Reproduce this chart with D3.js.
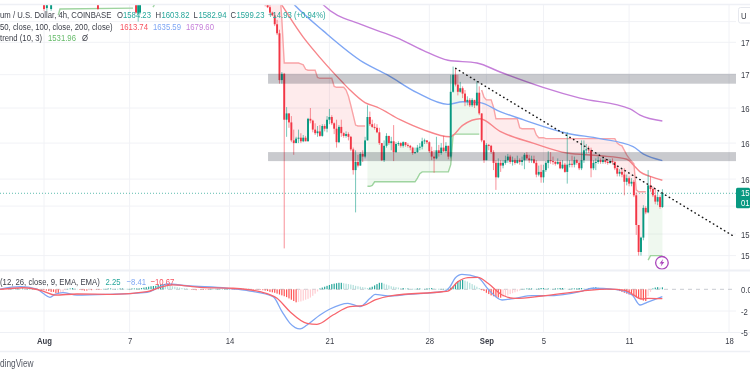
<!DOCTYPE html>
<html>
<head>
<meta charset="utf-8">
<script src="https://cdnjs.cloudflare.com/ajax/libs/d3/7.8.5/d3.min.js"></script>
<style>
  html, body { margin: 0; padding: 0; background: #fff; overflow: hidden; }
  svg { display: block; filter: blur(0.35px); }
  text { font-family: "Liberation Sans", Arial, sans-serif; }
</style>
</head>
<body>
<div id="chart"></div>
<script>
// 4h bars, first one on day 15.5 (days counted from 1 Aug)
const firstBarDay = 15.5;
const closes = [
  1810,1806,1800,1797,1787,1777,1725,1732,1681,1688,
  1678,1658,1655,1660,1661,1657,1661,1657,1682,1680,
  1670,1666,1668,1663,1674,1671,1681,1684,1677,1671,
  1656,1673,1666,1663,1665,1662,1648,1625,1634,1630,
  1643,1640,1658,1684,1676,1673,1672,1667,1655,1636,
  1652,1663,1655,1657,1645,1654,1655,1652,1656,1653,
  1652,1650,1644,1645,1650,1651,1657,1658,1656,1646,
  1640,1638,1647,1644,1650,1646,1652,1640,1712,1731,
  1720,1712,1716,1710,1701,1703,1697,1703,1697,1711,
  1688,1658,1636,1653,1652,1645,1633,1617,1633,1630,
  1633,1636,1640,1634,1636,1633,1636,1634,1636,1642,
  1638,1636,1637,1633,1620,1623,1617,1625,1633,1636,
  1635,1634,1632,1634,1627,1631,1623,1631,1632,1631,
  1636,1633,1627,1636,1647,1648,1647,1627,1633,1634,
  1636,1634,1636,1634,1633,1635,1634,1627,1621,1623,
  1620,1612,1616,1610,1612,1597,1564,1534,1550,1583,
  1578,1608,1604,1597,1590,1595,1584,1599.23
];
const highs = [
  1814,1814,1811,1801,1800,1792,1781,1734,1733,1695,
  1688,1685,1670,1662,1670,1666,1664,1663,1683,1694,
  1681,1677,1674,1675,1676,1676,1685,1693,1686,1678,
  1681,1675,1681,1667,1668,1667,1663,1650,1647,1642,
  1645,1647,1662,1697,1690,1681,1677,1676,1672,1655,
  1658,1666,1663,1662,1675,1656,1657,1656,1657,1656,
  1655,1653,1651,1650,1653,1655,1661,1660,1658,1657,
  1651,1647,1662,1653,1655,1663,1656,1652,1731,1740,
  1738,1731,1723,1718,1714,1707,1705,1705,1703,1724,
  1718,1688,1658,1655,1654,1653,1647,1636,1638,1636,
  1636,1641,1643,1642,1640,1638,1641,1638,1640,1644,
  1645,1642,1641,1641,1636,1630,1631,1631,1635,1646,
  1645,1640,1635,1638,1636,1636,1633,1667,1636,1641,
  1640,1637,1635,1658,1658,1654,1652,1650,1636,1638,
  1640,1638,1638,1638,1637,1637,1638,1635,1630,1626,
  1626,1627,1620,1618,1616,1614,1600,1564,1551,1586,
  1585,1625,1618,1607,1605,1601,1597,1603.82
];
const lows = [
  1807,1805,1797,1796,1785,1775,1721,1721,1538,1662,
  1672,1656,1642,1655,1655,1655,1656,1657,1657,1677,
  1667,1664,1662,1662,1662,1668,1667,1676,1675,1665,
  1650,1655,1662,1661,1661,1658,1646,1620,1578,1628,
  1630,1634,1638,1658,1674,1672,1670,1666,1653,1635,
  1634,1650,1653,1647,1635,1644,1652,1650,1650,1651,
  1650,1647,1642,1643,1644,1647,1648,1654,1654,1644,
  1636,1622,1637,1640,1642,1645,1644,1637,1638,1711,
  1718,1708,1711,1705,1696,1697,1695,1695,1694,1696,
  1686,1656,1633,1636,1647,1643,1625,1603,1616,1623,
  1627,1631,1633,1632,1630,1631,1632,1631,1630,1626,
  1636,1633,1633,1632,1617,1618,1611,1611,1623,1627,
  1632,1631,1630,1631,1626,1626,1622,1610,1628,1628,
  1628,1631,1625,1625,1633,1643,1644,1617,1625,1625,
  1632,1632,1632,1632,1631,1632,1631,1625,1618,1618,
  1617,1597,1608,1607,1607,1595,1553,1530,1530,1547,
  1576,1577,1601,1595,1587,1586,1582,1582.94
];

// scraps of older candles that just reach into the top of the pane: [day, open, high, low, close]
const earlyCandles = [
  [0, 1812, 1816, 1802, 1804], [0.2, 1805, 1816, 1802, 1812], [0.5, 1804, 1816, 1802, 1812],
  [3.78, 1812, 1816, 1803, 1804], [6.45, 1812, 1816, 1799, 1800], [6.6, 1799, 1816, 1790, 1812],
  [6.73, 1800, 1816, 1798, 1812]
];

// supertrend, one value per bar
const stRed1 = [
  1860,1860,1860,1860,1860,1860,1830,1792,1744,1744,
  1744,1744,1744,1744,1744,1743,1742,1737,1736,1736,
  1736,1736,1728,1727,1727,1727,1727,1727,1727,1718,
  1717,1717,1717,1717,1714,1707,1697,1686,1675,1674,
  1674,1674,1674
];
const stGreen1 = [
  1607,1607,1608,1612,1612,1612,1612,1612,1612,1612,
  1612,1612,1612,1612,1612,1612,1612,1612,1612,1612,
  1612,1616,1621,1623,1623,1623,1623,1623,1623,1623,
  1623,1623,1623,1623,1623,1631,1664,1665,1665,1665,
  1665,1665,1665,1665,1665,1665,1665,1665
];
const stRed2 = [
  1714,1706,1703,1703,1703,1695,1682,1682,1682,1682,
  1682,1682,1682,1682,1682,1682,1672,1671,1671,1671,
  1671,1671,1671,1664,1661,1661,1661,1660,1660,1660,
  1660,1660,1660,1660,1660,1660,1660,1660,1660,1660,
  1660,1660,1660,1660,1660,1660,1660,1660,1660,1660,
  1660,1660,1660,1660,1660,1660,1660,1655,1653,1652,
  1647,1642,1638,1635,1632,1603,1601,1601,1601,1601
];
const stGreen2 = [1525,1530,1530,1530,1530,1530,1530];
const stGreenEarly = [[1.0, 1797], [1.12, 1804], [6.24, 1805]];
const stGreenEarly2 = [[7.64, 1806], [7.78, 1810]];

// moving averages: [day, price]
const ma50 = [
  [16.19,1820],[16.68,1808],[18.15,1773],[19.34,1750],[20.95,1722],[21.44,1714],[22.49,1700],
  [23.34,1695],[24.95,1681],[26.56,1670],[28.45,1662],[29.36,1675],[30.55,1682],[31.96,1668],
  [34.27,1655],[36.65,1644],[38.96,1641],[40.85,1637],[41.28,1631],[41.77,1623],[42.47,1618],[43.33,1613.74]
];
const ma100 = [
  [16.89,1820],[17.59,1808],[19.55,1780],[22.35,1745],[24.04,1731],[26.14,1711],[28.31,1698],
  [29.36,1701],[30.55,1700],[31.96,1690],[33.57,1681],[36.65,1666],[38.96,1660],[41.28,1651],
  [41.98,1643],[43.33,1635.59]
];
const ma200 = [
  [18.99,1820],[19.55,1809],[22.35,1786],[24.74,1772],[26.56,1758],[28.31,1747],[30.34,1744],
  [31.96,1734],[34.97,1717],[37.56,1705],[41.07,1693],[41.77,1686],[43.33,1679.6]
];

// drawn zones and the falling trend line
const zoneTop = [1732, 1721];
const zoneBottom = [1645, 1635];
const zoneDays = [15.7, 48.5];
const trendLine = [[28.85, 1738], [48.28, 1552]];
const lastPrice = 1599.23;

// MACD pane
const macdLine = [
  [-3.08,0.3],[-1.68,3],[-0.49,0.3],[-0.07,-4.6],[0.42,-9.2],[0.77,-5.8],[1.33,-3.9],[2.31,-6.6],
  [4.41,-5.8],[7.22,-3.5],[7.92,1.2],[8.62,6.1],[10.02,4.1],[12.82,1.2],[14.44,-2],[16.05,-8.5],
  [16.68,-25.8],[17.24,-39.2],[17.94,-45.7],[18.43,-41.1],[19.34,-29.6],[20.04,-22.7],[21.3,-16.1],
  [22.14,-20],[22.85,-10.4],[23.2,-5.8],[24.11,-7.7],[25.51,-5.8],[28.1,-2],[28.45,3],[28.8,12.7],
  [29.29,17.3],[30.41,13.8],[31.11,0.3],[32.1,-12.3],[33.01,-10.4],[34.2,-7.4],[35.11,-7.4],
  [37.7,-2],[38.4,1.2],[40.01,0],[41.21,-6.6],[41.77,-18.1],[42.26,-15],[43.33,-8.41]
];
const signalLine = [
  [-3.08,0],[-1.47,1.8],[-0.07,-2],[0.77,-6.6],[2.31,-5.4],[4.84,-5.8],[7.22,-2.8],[8.13,2.3],
  [9.04,5],[10.93,2.3],[13.24,1.2],[15.14,-2.8],[16.33,-10.4],[17.24,-25.8],[18.43,-39.2],
  [19.13,-40.3],[20.25,-29.6],[21.44,-20],[22.35,-18.9],[23.2,-12.3],[24.39,-7.4],[27.89,-2.8],
  [28.31,-2],[29.01,8.8],[29.71,13.4],[30.41,13.8],[31.11,6.9],[32.1,-6.6],[33.01,-10.4],
  [34.9,-7.7],[37.7,-2],[39.52,0.3],[40.71,-1.2],[41.91,-11.2],[42.33,-10.4],[43.33,-10.67]
];
// histogram, last value sits on the last price bar
const macdHist = [
  1,1,1.5,1.5,1,1,0.5,0.5,1,1,0.5,0.5,0,
  -0.5,-1,-1.5,-2,-3,
  -3,-4.5,-5,-4,-3,
  -1,0.5,1,1.5,1,0.5,
  -0.5,-1,-1.5,-1.5,-1,-1,-0.5,-0.5,-0.5,-0.5,
  0.5,0.5,1,1,0.5,0.5,0.5,1,1,0.5,0.5,0.5,1,1,1,
  1,1.5,2,2.5,3,3.5,3.8,
  4,5,5.5,6,5,4.5,
  4,3.5,3,2.5,2,1.5,1.2,
  1,0.5,-0.5,-0.5,-1,-0.5,-0.5,-0.5,-0.5,-0.5,0.5,0.5,0.5,
  0.5,0.5,0.5,0.5,0.5,0.5,-0.5,-0.5,-0.5,-0.5,0.5,0.5,0.5,0.5,-0.5,-0.5,-0.5,-0.5,-0.5,
  -1,-1.5,-2,-3,-3.5,-4,-5,-6,-7,-8,-9,-10.5,-12,-13.5,-15,
  -14.5,-14,-13,-12,-11,-9.5,-7.5,-5,-2.5,
  1,2,3,4,5,6,6.5,7,7.5,
  7.5,7,6.5,6,5.5,5,4,3.5,3,2.5,2,1.5,
  2,3,4.5,6,7.5,
  7.5,6.5,5.5,4.5,3.5,3,2.5,2,
  1.5,1.5,1,1,0.5,0.5,0.5,1,1,0.5,0.5,1,1,1.5,1,0.5,0.5,0.5,0.5,0.5,
  1,2,3,
  6,9,10.5,11,
  10,9,7.5,6,4.5,3,1.5,
  -1,
  -2,-4,-5.5,-7,-8,-9,-9.5,-9.7,
  -9,-8,-7,-5.5,-4.5,-3.5,-2.5,-1.5,
  0.5,0.5,1,1,1,0.5,0.5,1,1.5,1.5,1,1,0.5,0.5,1,1,1.5,1.5,1,0.5,
  0.5,1,1,1,1.5,1.5,1,0.5,1,1.5,2,2.5,2,1.5,1,0.5,0.5,0.5,-0.5,-0.5,
  -1,-2,-3,-4,-5,-6,-6.5,-7.5,-9,-10,-11.5,-13,-13.5,
  -8,-3,
  1,2,2.5,2,2.25
];

// axes
const dayTicks = [0, 6, 13, 20, 27, 31, 35, 41, 48];
const dayLabels = ["Aug", "7", "14", "21", "28", "Sep", "5", "11", "18"];
const priceTicks = [1767, 1731, 1694, 1655, 1615, 1554, 1530];
const priceLabels = ["17", "17", "16", "16", "16", "15", "15"];
const priceGrid = [1790, 1767, 1731, 1694, 1655, 1615, 1585, 1554, 1530];
const macdTicks = [0, -25, -50];
const macdLabels = ["0.0", "-2", "-5"];

const width = 750, height = 375;
const plotRight = 736;
const mainTop = 5, mainBottom = 270, macdTop = 272, macdBottom = 332.5, axisBottom = 351.5;
// the picture is squeezed sideways, so all text is narrowed the same way
const fontSize = 9.5, squeeze = "scale(0.815,1)";

const up = "#089981", down = "#f23645";
const colMa50 = "#f7858a", colMa100 = "#7ea6f4", colMa200 = "#c57fd9";

const x = d3.scaleLinear().domain([0, 48]).range([44, 729]);
const y = d3.scaleLinear().domain([1814, 1514]).range([0, 270]);
const yMacd = d3.scaleLinear().domain([0, -50]).range([289.3, 332.7]);

const barDay = i => firstBarDay + i / 6;

const bars = closes.map((c, i) => ({
  day: barDay(i),
  open: i ? closes[i - 1] : 1814,
  close: c,
  high: highs[i],
  low: lows[i]
}));

const svg = d3.select("#chart").append("svg")
  .attr("width", width).attr("height", height);

svg.append("clipPath").attr("id", "main-clip").append("rect")
  .attr("x", 0).attr("y", mainTop).attr("width", plotRight).attr("height", mainBottom - mainTop);
svg.append("clipPath").attr("id", "macd-clip").append("rect")
  .attr("x", 0).attr("y", macdTop).attr("width", plotRight).attr("height", macdBottom - macdTop);

// grid
const grid = svg.append("g").attr("stroke", "#f1f2f6").attr("stroke-width", 1);
grid.selectAll(".v").data(dayTicks).join("line")
  .attr("x1", d => x(d)).attr("x2", d => x(d))
  .attr("y1", mainTop).attr("y2", macdBottom);
grid.selectAll(".h").data(priceGrid).join("line")
  .attr("x1", 0).attr("x2", plotRight)
  .attr("y1", d => y(d)).attr("y2", d => y(d));
grid.selectAll(".m").data(macdTicks.slice(1, 2)).join("line")
  .attr("x1", 0).attr("x2", plotRight)
  .attr("y1", d => yMacd(d)).attr("y2", d => yMacd(d));

const main = svg.append("g").attr("clip-path", "url(#main-clip)");

// supertrend fills and lines
const stSegments = [
  { start: 0, values: stRed1, line: "#f9a3a6", fill: "rgba(242,54,69,0.1)" },
  { start: 43, values: stGreen1, line: "#9ed49f", fill: "rgba(76,175,80,0.09)" },
  { start: 91, values: stRed2, line: "#f9a3a6", fill: "rgba(242,54,69,0.1)" },
  { start: 161, values: stGreen2, line: "#9ed49f", fill: "rgba(76,175,80,0.09)" }
];
stSegments.forEach(seg => {
  const pts = seg.values.map((v, k) => ({ bar: bars[seg.start + k], st: v }));
  main.append("path")
    .attr("fill", seg.fill)
    .attr("d", d3.area()
      .x(d => x(d.bar.day))
      .y0(d => y((d.bar.open + d.bar.close) / 2))
      .y1(d => y(d.st))(pts));
  main.append("path")
    .attr("fill", "none").attr("stroke", seg.line).attr("stroke-width", 1.4)
    .attr("d", d3.line().x(d => x(d.bar.day)).y(d => y(d.st))(pts));
});

const pairLine = d3.line().x(d => x(d[0])).y(d => y(d[1]));
[stGreenEarly, stGreenEarly2].forEach(pts => {
  main.append("path").attr("fill", "none").attr("stroke", "#9ed49f").attr("stroke-width", 1.4)
    .attr("d", pairLine(pts));
});

// last price line
main.append("line")
  .attr("x1", 0).attr("x2", plotRight)
  .attr("y1", y(lastPrice)).attr("y2", y(lastPrice))
  .attr("stroke", "#5fbcae").attr("stroke-width", 1).attr("stroke-dasharray", "1 2");

// moving averages
const maLine = d3.line().x(d => x(d[0])).y(d => y(d[1])).curve(d3.curveMonotoneX);
[[ma50, colMa50], [ma100, colMa100], [ma200, colMa200]].forEach(([pts, col]) => {
  main.append("path").attr("fill", "none").attr("stroke", col).attr("stroke-width", 1.4)
    .attr("d", maLine(pts));
});

// candles
const candles = earlyCandles
  .map(d => ({ day: d[0], open: d[1], high: d[2], low: d[3], close: d[4] }))
  .concat(bars);
main.selectAll(".wick").data(candles).join("line")
  .attr("class", "wick")
  .attr("x1", d => x(d.day)).attr("x2", d => x(d.day))
  .attr("y1", d => y(d.high)).attr("y2", d => y(d.low))
  .attr("stroke", d => d.close >= d.open ? up : down)
  .attr("stroke-opacity", 0.55).attr("stroke-width", 1);
main.selectAll(".body").data(candles).join("rect")
  .attr("class", "body")
  .attr("x", d => x(d.day) - 0.95).attr("width", 1.9)
  .attr("y", d => y(Math.max(d.open, d.close)))
  .attr("height", d => Math.max(1, Math.abs(y(d.open) - y(d.close))))
  .attr("fill", d => d.close >= d.open ? up : down);

// zones sit over the candles
[zoneTop, zoneBottom].forEach(z => {
  main.append("rect")
    .attr("x", x(zoneDays[0])).attr("width", x(zoneDays[1]) - x(zoneDays[0]))
    .attr("y", y(z[0])).attr("height", y(z[1]) - y(z[0]))
    .attr("fill", "rgba(30,34,51,0.24)");
});

main.append("path")
  .attr("fill", "none").attr("stroke", "#1a1a1a").attr("stroke-width", 1.5)
  .attr("stroke-linecap", "round").attr("stroke-dasharray", "0.4 3.9")
  .attr("d", pairLine(trendLine));

// lightning mark by the last bar
const boltDay = 43.3, boltPrice = 1522;
const mark = svg.append("g")
  .attr("transform", "translate(" + x(boltDay) + "," + y(boltPrice) + ")");
mark.append("circle").attr("r", 6.3).attr("fill", "#fff")
  .attr("stroke", "#ab47bc").attr("stroke-width", 1.3);
mark.append("path").attr("fill", "#ab47bc")
  .attr("d", "M1.2,-3.8 L-2.4,0.7 L-0.3,0.7 L-1.2,3.8 L2.4,-0.9 L0.3,-0.9 Z");

// MACD pane
const macd = svg.append("g").attr("clip-path", "url(#macd-clip)");
macd.append("line")
  .attr("x1", 0).attr("x2", plotRight)
  .attr("y1", yMacd(0)).attr("y2", yMacd(0))
  .attr("stroke", "#c9cbd1").attr("stroke-dasharray", "4 4");

const histStart = barDay(closes.length - 1) - (macdHist.length - 1) / 6;
macd.selectAll(".hist").data(macdHist).join("rect")
  .attr("class", "hist")
  .attr("x", (d, i) => x(histStart + i / 6) - 0.6).attr("width", 1.2)
  .attr("y", d => yMacd(Math.max(d, 0)))
  .attr("height", d => Math.abs(yMacd(d) - yMacd(0)))
  .attr("fill", (d, i) => {
    const prev = i ? macdHist[i - 1] : 0;
    if (d >= 0) return d >= prev ? "#26a69a" : "#b2dfdb";
    return d <= prev ? "#ff5252" : "#ffcdd2";
  });

const macdPath = d3.line().x(d => x(d[0])).y(d => yMacd(d[1])).curve(d3.curveMonotoneX);
macd.append("path").attr("fill", "none").attr("stroke", "#7ea6f4").attr("stroke-width", 1.3)
  .attr("d", macdPath(macdLine));
macd.append("path").attr("fill", "none").attr("stroke", "#f7646c").attr("stroke-width", 1.3)
  .attr("d", macdPath(signalLine));

// pane borders
const borders = svg.append("g").attr("stroke", "#eef0f5");
borders.append("line").attr("x1", 0).attr("x2", width).attr("y1", 4.5).attr("y2", 4.5).attr("stroke-width", 1.5);
borders.append("line").attr("x1", 0).attr("x2", width).attr("y1", 270.5).attr("y2", 270.5).attr("stroke-width", 2);
borders.append("line").attr("x1", 0).attr("x2", width).attr("y1", macdBottom).attr("y2", macdBottom);
borders.append("line").attr("x1", 0).attr("x2", width).attr("y1", axisBottom).attr("y2", axisBottom).attr("stroke-width", 1.5);

// axes
const axisText = sel => {
  sel.select(".domain").remove();
  sel.selectAll("text").attr("fill", "#3a3d47").attr("font-size", fontSize).attr("transform", squeeze);
};
svg.append("g")
  .attr("transform", "translate(0," + macdBottom + ")")
  .call(d3.axisBottom(x).tickValues(dayTicks).tickFormat((d, i) => dayLabels[i]).tickSize(0).tickPadding(5))
  .call(axisText)
  .selectAll("text")
  .attr("font-weight", (d, i) => isNaN(+dayLabels[i]) ? "bold" : "normal");
svg.append("g")
  .attr("transform", "translate(741,0)")
  .call(d3.axisRight(y).tickValues(priceTicks).tickFormat((d, i) => priceLabels[i]).tickSize(0).tickPadding(0))
  .call(axisText);
svg.append("g")
  .attr("transform", "translate(741,0)")
  .call(d3.axisRight(yMacd).tickValues(macdTicks).tickFormat((d, i) => macdLabels[i]).tickSize(0).tickPadding(0))
  .call(axisText);

// legends
const legend = (lx, ly, txt, col) => svg.append("text")
  .attr("transform", "translate(" + lx + "," + ly + ") " + squeeze)
  .attr("font-size", fontSize).attr("fill", col).text(txt);

// last price badge, unit button
svg.append("rect").attr("x", 736).attr("y", y(lastPrice) - 5.5).attr("width", 14).attr("height", 20.5)
  .attr("rx", 1.5).attr("fill", up);
legend(741, y(lastPrice) + 3, "15", "#fff");
legend(741, y(lastPrice) + 12.5, "01", "#fff");
svg.append("rect").attr("x", 738.5).attr("y", 7.5).attr("width", 16).attr("height", 15.5)
  .attr("rx", 2).attr("fill", "#fff").attr("stroke", "#e6e8ee");
legend(741, 18.5, "U", "#3a3d47");

const ink = "#3a3d47", teal = "#26a69a", stGreenText = "#66bb6a";

legend(0, 18, "um / U.S. Dollar, 4h, COINBASE", ink);
legend(117, 18, "O", ink); legend(123, 18, "1584.23", teal);
legend(155.5, 18, "H", ink); legend(161.5, 18, "1603.82", teal);
legend(193.5, 18, "L", ink); legend(198.5, 18, "1582.94", teal);
legend(230.5, 18, "C", ink); legend(236.5, 18, "1599.23", teal);
legend(268, 18, "+14.93 (+0.94%)", teal);

legend(0, 29.5, "50, close, 100, close, 200, close)", ink);
legend(120, 29.5, "1613.74", "#f7525f");
legend(153, 29.5, "1635.59", colMa100);
legend(186, 29.5, "1679.60", colMa200);

legend(0, 41, "trend (10, 3)", ink);
legend(48, 41, "1531.96", stGreenText);
legend(82, 41, "Ø", ink);

legend(0, 284.5, "(12, 26, close, 9, EMA, EMA)", ink);
legend(105.5, 284.5, "2.25", teal);
legend(126.5, 284.5, "\u22128.41", colMa100);
legend(150.5, 284.5, "\u221210.67", "#f7525f");

legend(0, 367, "dingView", "#555964").attr("font-size", 10.2);
</script>
</body>
</html>
